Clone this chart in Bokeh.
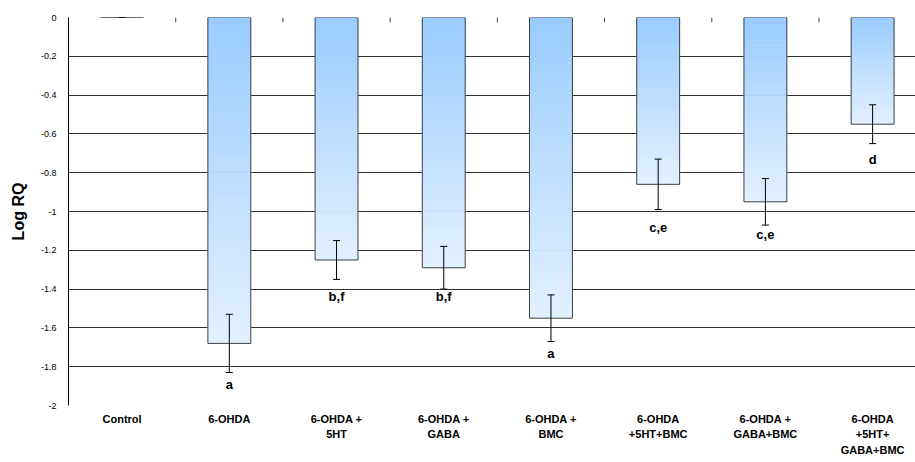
from bokeh.plotting import figure
from bokeh.models import Range1d, FixedTicker, LinearAxis
from bokeh.core.properties import value
from bokeh.embed import file_html
from bokeh.resources import INLINE

# ---- data ----
categories = ["Control", "6-OHDA", "6-OHDA +\n5HT", "6-OHDA +\nGABA", "6-OHDA +\nBMC",
              "6-OHDA\n+5HT+BMC", "6-OHDA +\nGABA+BMC", "6-OHDA\n+5HT+\nGABA+BMC"]
log_rq = [0.0, -1.68, -1.25, -1.29, -1.55, -0.86, -0.95, -0.55]
sem = [0.0, 0.15, 0.10, 0.11, 0.12, 0.13, 0.12, 0.10]
letters = ["", "a", "b,f", "b,f", "a", "c,e", "c,e", "d"]
letter_y = [0.0, -1.89, -1.44, -1.44, -1.73, -1.08, -1.12, -0.73]
y_ticks = [0, -0.2, -0.4, -0.6, -0.8, -1, -1.2, -1.4, -1.6, -1.8, -2]
y_tick_labels = ["0", "-0.2", "-0.4", "-0.6", "-0.8", "-1", "-1.2", "-1.4", "-1.6", "-1.8", "-2"]

FONT = "Liberation Sans"
BAR_W = 0.4
top_rgb = (153, 204, 255)
bot_rgb = (226, 240, 255)
N = 40

xs = list(range(len(categories)))

p = figure(width=915, height=462, output_backend="svg", toolbar_location=None,
           x_range=Range1d(-0.5, 7.4), y_range=Range1d(-2, 0),
           x_axis_location=None,
           min_border_left=68, min_border_right=0, min_border_top=17, min_border_bottom=57)
p.outline_line_color = None
p.background_fill_color = "white"
p.border_fill_color = "white"

# grid
p.xgrid.visible = False
p.ygrid.ticker = FixedTicker(ticks=y_ticks)
p.ygrid.grid_line_color = "#303030"
p.ygrid.grid_line_width = 1

# y axis
yax = p.yaxis[0]
yax.ticker = FixedTicker(ticks=y_ticks)
yax.major_label_overrides = {float(t): l for t, l in zip(y_ticks, y_tick_labels)}
yax.major_tick_in = 0
yax.major_tick_out = 0
yax.minor_tick_in = 0
yax.minor_tick_out = 0
yax.axis_line_color = "black"
yax.axis_line_width = 1
yax.major_label_standoff = 12
yax.major_label_text_font = FONT
yax.major_label_text_font_size = "9px"
yax.major_label_text_color = "black"
yax.axis_label = "Log RQ"
yax.axis_label_text_font = FONT
yax.axis_label_text_font_size = "16px"
yax.axis_label_text_font_style = "bold"
yax.axis_label_text_color = "black"
yax.axis_label_standoff = 11

# x axis: category labels only
xax = LinearAxis(ticker=FixedTicker(ticks=xs),
                 major_label_overrides={x: c for x, c in zip(xs, categories)})
xax.axis_line_color = None
xax.major_tick_in = 0
xax.major_tick_out = 0
xax.minor_tick_in = 0
xax.minor_tick_out = 0
xax.major_label_standoff = 7
xax.major_label_text_font = FONT
xax.major_label_text_font_size = "11px"
xax.major_label_text_font_style = "bold"
xax.major_label_text_color = "black"
xax.major_label_text_line_height = 1.32
p.add_layout(xax, "below")

# gradient bars
seg_l, seg_r, seg_t, seg_b, seg_c = [], [], [], [], []
for x, v in zip(xs, log_rq):
    for i in range(N):
        f = (i + 0.5) / N
        rgb = tuple(int(round(a + (b - a) * f)) for a, b in zip(top_rgb, bot_rgb))
        seg_l.append(x - BAR_W / 2)
        seg_r.append(x + BAR_W / 2)
        seg_t.append(v * i / N)
        seg_b.append(v * (i + 1) / N)
        seg_c.append("#%02x%02x%02x" % rgb)
p.quad(left=seg_l, right=seg_r, top=seg_t, bottom=seg_b,
       fill_color=seg_c, line_color=seg_c, line_width=0.6)

# bar outlines
p.quad(left=[x - BAR_W / 2 for x in xs], right=[x + BAR_W / 2 for x in xs],
       top=[0] * len(xs), bottom=log_rq,
       fill_color=None, line_color="#404040", line_width=1)

# category boundary ticks on the zero line
bounds = [i + 0.5 for i in range(len(categories) - 1)]
p.segment(x0=bounds, y0=[0] * len(bounds), x1=bounds, y1=[-0.025] * len(bounds),
          line_color="#404040", line_width=1)

# error bars
lo = [v - s for v, s in zip(log_rq, sem)]
hi = [v + s for v, s in zip(log_rq, sem)]
p.segment(x0=xs, y0=lo, x1=xs, y1=hi, line_color="black", line_width=1)
p.dash(x=xs, y=lo, size=7, line_color="black", line_width=1)
p.dash(x=xs, y=hi, size=7, line_color="black", line_width=1)

# significance letters
p.text(x=xs, y=letter_y, text=letters, text_font=value(FONT), text_font_size="13px",
       text_font_style="bold", text_align="center", text_baseline="middle", text_color="black")

open("out.html", "w").write(file_html(p, INLINE))
